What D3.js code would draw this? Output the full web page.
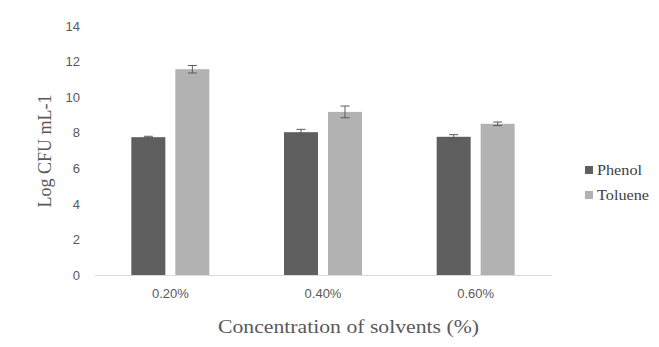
<!DOCTYPE html>
<html><head><meta charset="utf-8">
<script src="https://cdn.jsdelivr.net/npm/d3@7"></script>
<style>body{margin:0;background:#fff}</style>
</head><body>
<script>
const categories = ["0.20%", "0.40%", "0.60%"];
const seriesNames = ["Phenol", "Toluene"];
const phenol = [7.75, 8.03, 7.77];
const toluene = [11.57, 9.17, 8.5];
const phenolErr = [0.05, 0.16, 0.12];
const tolueneErr = [0.21, 0.33, 0.1];
const yTicks = [0, 2, 4, 6, 8, 10, 12, 14];
const colors = ["#5f5f5f", "#b2b2b2"];

const W = 659, H = 347;
const serif = "'Liberation Serif', 'Times New Roman', serif";
const sans = "'Liberation Sans', Arial, sans-serif";
const svg = d3.select("body").append("svg").attr("width", W).attr("height", H);
const x0 = 94, x1 = 552, yBase = 275, yTop = 26;
const x = d3.scaleBand().domain(categories).range([x0, x1]);
const y = d3.scaleLinear().domain([0, 14]).range([yBase, yTop]);
const xs = d3.scaleBand().domain(seriesNames).range([0, 78]).paddingInner(10/44);

const data = categories.map((c, i) => ({c, vals: [
  {s: "Phenol", v: phenol[i], e: phenolErr[i]},
  {s: "Toluene", v: toluene[i], e: tolueneErr[i]}]}));

// y labels
const yAxis = svg.append("g").attr("transform", `translate(80,0)`)
  .call(d3.axisLeft(y).tickValues(yTicks).tickSize(0).tickPadding(0));
yAxis.select(".domain").remove();
yAxis.selectAll("text").attr("font-family", sans).attr("font-size", 13).attr("fill", "#595959");

const g = svg.append("g").selectAll("g").data(data).join("g")
  .attr("transform", d => `translate(${x(d.c) + x.bandwidth()/2 - 39},0)`);
g.selectAll("rect").data(d => d.vals).join("rect")
  .attr("x", d => xs(d.s)).attr("width", xs.bandwidth())
  .attr("y", d => y(d.v)).attr("height", d => y(0) - y(d.v))
  .attr("fill", (d, i) => colors[i]);
const eb = g.selectAll("g.err").data(d => d.vals).join("g").attr("class", "err")
  .attr("stroke", "#5a5a5a").attr("stroke-width", 1);
const cx = d => xs(d.s) + xs.bandwidth()/2;
eb.append("line").attr("x1", cx).attr("x2", cx)
  .attr("y1", d => y(d.v + d.e)).attr("y2", d => y(d.v - d.e));
eb.append("line").attr("x1", d => cx(d) - 4.5).attr("x2", d => cx(d) + 4.5)
  .attr("y1", d => y(d.v + d.e)).attr("y2", d => y(d.v + d.e));
eb.append("line").attr("x1", d => cx(d) - 4.5).attr("x2", d => cx(d) + 4.5)
  .attr("y1", d => y(d.v - d.e)).attr("y2", d => y(d.v - d.e));

// x axis
const xAxis = svg.append("g").attr("transform", `translate(0,${yBase})`)
  .call(d3.axisBottom(x).tickSize(0).tickPadding(14).tickSizeOuter(0));
xAxis.select(".domain").attr("stroke", "#d9d9d9").attr("stroke-width", 1);
xAxis.selectAll("text").attr("font-family", sans).attr("font-size", 13).attr("fill", "#595959");

// titles
svg.append("text").attr("transform", "translate(51,151) rotate(-90)")
  .attr("text-anchor", "middle").attr("font-family", serif)
  .attr("font-size", 18).attr("fill", "#595959").text("Log CFU mL-1");
svg.append("text").attr("x", 348.5).attr("y", 333)
  .attr("text-anchor", "middle").attr("font-family", serif)
  .attr("font-size", 18).attr("fill", "#595959")
  .attr("textLength", 261).attr("lengthAdjust", "spacingAndGlyphs")
  .text("Concentration of solvents (%)");

// legend
const leg = svg.append("g").selectAll("g").data(seriesNames).join("g")
  .attr("transform", (d, i) => `translate(585,${170 + i*25})`);
leg.append("rect").attr("x", 0).attr("y", -4).attr("width", 8).attr("height", 8).attr("fill", (d, i) => colors[i]);
leg.append("text").attr("x", 12).attr("y", 5)
  .attr("font-family", serif).attr("font-size", 14).attr("fill", "#404040")
  .attr("textLength", (d) => d === "Phenol" ? 45 : 52).attr("lengthAdjust", "spacingAndGlyphs")
  .text(d => d);
</script>
</body></html>
